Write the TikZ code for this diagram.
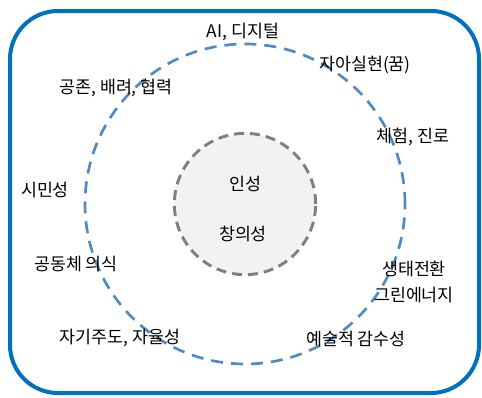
\documentclass[tikz,border=0pt]{standalone}
\usepackage{fontspec}
\newfontfamily\kr{Noto Sans CJK KR}
\definecolor{frameblue}{HTML}{0070C0}
\definecolor{ringblue}{HTML}{4F89C6}
\definecolor{coregray}{HTML}{7F7F7F}
\definecolor{corefill}{HTML}{F2F2F2}
\begin{document}
\begin{tikzpicture}[x=0.75pt,y=-0.75pt,
  lbl/.style={font=\kr\fontsize{13pt}{19pt}\selectfont, inner sep=1pt, align=center},
  frame/.style={draw=frameblue, line width=3pt, rounded corners=36pt},
  ring/.style={draw=ringblue, line width=2pt, dash pattern=on 9pt off 6pt},
  core/.style={draw=coregray, fill=corefill, line width=2.2pt, dash pattern=on 7.5pt off 4.5pt}]
\useasboundingbox (0,0) rectangle (482,397);
\draw[frame] (10,11) rectangle (479,393);
\coordinate (c) at (245,204);
\draw[ring] (c) circle[radius=120pt];
\draw[core] (c) circle[radius=53pt];
\node[lbl] (ins) at (245,184) {인성};
\node[lbl] (cre) at (243,234) {창의성};
\node[lbl] (ai) at (243,32) {AI, 디지털};
\node[lbl] (self) at (365,65) {자아실현(꿈)};
\node[lbl] (coex) at (116,88) {공존, 배려, 협력};
\node[lbl] (exp) at (413,137) {체험, 진로};
\node[lbl] (cit) at (45,190) {시민성};
\node[lbl] (comm) at (76,264) {공동체 의식};
\node[lbl] (eco) at (414,282) {생태전환\\그린에너지};
\node[lbl] (auto) at (120,338) {자기주도, 자율성};
\node[lbl] (art) at (356,339) {예술적 감수성};
\end{tikzpicture}
\end{document}
